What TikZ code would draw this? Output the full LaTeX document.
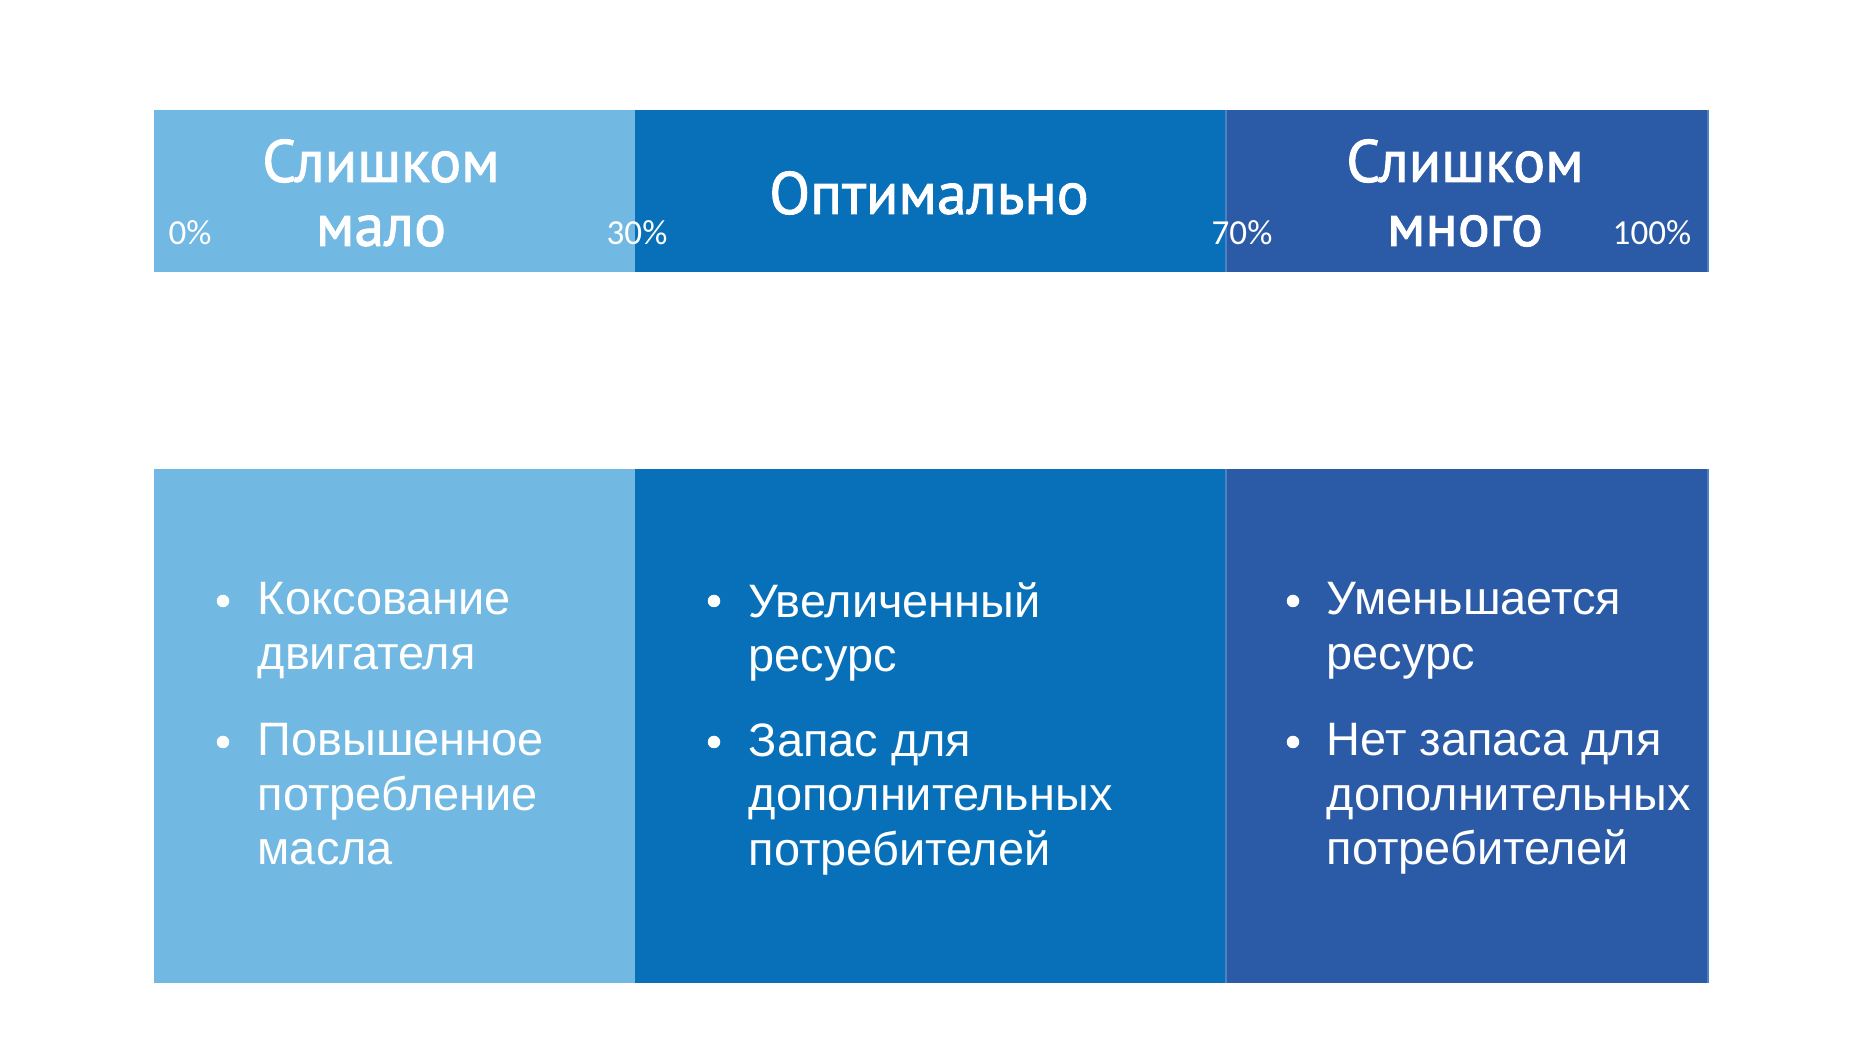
\documentclass[tikz,border=0pt]{standalone}
\usepackage{fontspec}
\setmainfont{Liberation Sans}
\newfontfamily\headfont[FakeBold=1.6]{PT Sans}
\newfontfamily\pctfont{Carlito}
\usetikzlibrary{positioning}
\definecolor{lowblue}{HTML}{71B8E2}
\definecolor{optblue}{HTML}{0770B8}
\definecolor{highblue}{HTML}{2B5BA7}
\definecolor{edgeblue}{HTML}{4F80C2}

\begin{document}
\begin{tikzpicture}[
    x=0.1mm, y=-0.1mm,
    node distance=0pt and 0pt,
    band/.style={rectangle, inner sep=0pt, outer sep=0pt, anchor=north west},
    edge/.style={draw=edgeblue, line width=0.3pt},
    head/.style={text=white, align=center, inner sep=0pt,
        font=\headfont\fontsize{17}{18.2}\selectfont},
    pct/.style={text=white, anchor=base, inner sep=0pt,
        font=\pctfont\fontsize{10}{12}\selectfont},
    itemtxt/.style={text=white, align=left, anchor=north west, inner sep=0pt,
        font=\fontsize{13.35}{15.5}\selectfont},
    dot/.style={circle, fill=white, inner sep=0pt, minimum size=1.25mm}
]
\useasboundingbox (0,0) rectangle (1860,1048);

% scale bar
\node[band, fill=lowblue, minimum width=48.1mm, minimum height=16.2mm] (lowtop) at (154,110) {};
\node[band, fill=optblue, minimum width=59.1mm, minimum height=16.2mm, right=of lowtop.north east, anchor=north west] (opttop) {};
\node[band, fill=highblue, minimum width=48.2mm, minimum height=16.2mm, right=of opttop.north east, anchor=north west] (hightop) {};
\draw[edge] (hightop.north west) -- (hightop.south west);
\draw[edge] (hightop.north east) -- (hightop.south east);

% effect panels
\node[band, fill=lowblue, minimum width=48.1mm, minimum height=51.4mm] (lowbox) at (154,469) {};
\node[band, fill=optblue, minimum width=59.1mm, minimum height=51.4mm, right=of lowbox.north east, anchor=north west] (optbox) {};
\node[band, fill=highblue, minimum width=48.2mm, minimum height=51.4mm, right=of optbox.north east, anchor=north west] (highbox) {};
\draw[edge] (highbox.north west) -- (highbox.south west);
\draw[edge] (highbox.north east) -- (highbox.south east);

% headings
\node[head] (lowhead)  at (381,193)  {Слишком\\мало};
\node[head] (opthead)  at (929,193)  {Оптимально};
\node[head] (highhead) at (1465,193) {Слишком\\много};

% percentages
\node[pct] (p0)   at (190,245)  {0\%};
\node[pct] (p30)  at (637,245)  {30\%};
\node[pct] (p70)  at (1242,245) {70\%};
\node[pct] (p100) at (1652,245) {100\%};

% too little
\node[dot] (lowdota) at (223,601) {};
\node[itemtxt] (lowa) at (257,582) {Коксование\\двигателя};
\node[dot] (lowdotb) at (223,742) {};
\node[itemtxt] (lowb) at (257,723) {Повышенное\\потребление\\масла};

% optimal
\node[dot] (optdota) at (714,601) {};
\node[itemtxt] (opta) at (748,582) {Увеличенный\\ресурс};
\node[dot] (optdotb) at (714,742) {};
\node[itemtxt] (optb) at (748,723) {Запас для\\дополнительных\\потребителей};

% too much
\node[dot] (highdota) at (1293,601) {};
\node[itemtxt] (higha) at (1326,582) {Уменьшается\\ресурс};
\node[dot] (highdotb) at (1293,742) {};
\node[itemtxt] (highb) at (1326,723) {Нет запаса для\\дополнительных\\потребителей};
\end{tikzpicture}
\end{document}
